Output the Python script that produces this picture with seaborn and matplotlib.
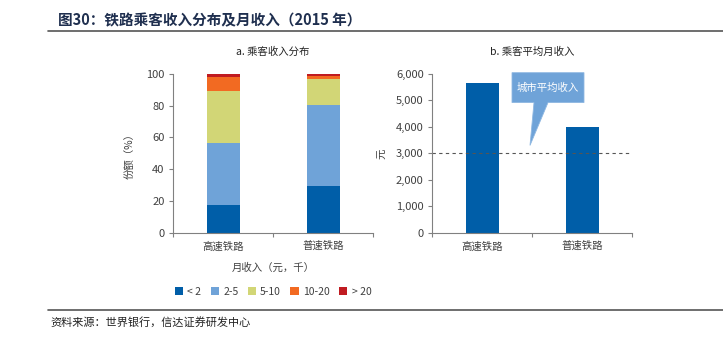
import matplotlib
matplotlib.use("Agg")
import matplotlib.pyplot as plt
from matplotlib.patches import Patch, Polygon
from matplotlib.lines import Line2D
from matplotlib.ticker import FuncFormatter, FixedLocator
import pandas as pd
import seaborn as sns

sns.set_theme(style="white")
plt.rcParams["font.family"] = ["Noto Sans CJK SC", "DejaVu Sans"]

# Railway passenger income, 2015
categories = ["高速铁路", "普速铁路"]
bands = ["< 2", "2-5", "5-10", "10-20", "> 20"]
share_lt2 = [17.5, 29.4]
share_2_5 = [39.2, 51.1]
share_5_10 = [32.8, 16.3]
share_10_20 = [8.8, 1.9]
share_gt20 = [1.7, 1.3]
avg_income = [5650, 4000]
city_avg_income = 3000

band_colors = ["#005ea8", "#6fa3d8", "#d2d676", "#f26a22", "#c01b21"]
text_gray = "#404040"
spine_gray = "#808080"

fig = plt.figure(figsize=(7.23, 3.43), dpi=100)
fig.patch.set_facecolor("white")

ax1 = fig.add_axes([173 / 723, 110.3 / 343, 200 / 723, 158.7 / 343])
ax2 = fig.add_axes([432 / 723, 110.3 / 343, 200 / 723, 158.7 / 343])

# Stacked shares: draw cumulative totals from the top band down
shares = [share_lt2, share_2_5, share_5_10, share_10_20, share_gt20]
cum = []
running = [0.0] * len(categories)
for s in shares:
    running = [r + v for r, v in zip(running, s)]
    cum.append(list(running))
for i in range(len(bands) - 1, -1, -1):
    df = pd.DataFrame({"cat": categories, "val": cum[i]})
    sns.barplot(data=df, x="cat", y="val", color=band_colors[i], saturation=1,
                width=0.33, ax=ax1, linewidth=0)

df2 = pd.DataFrame({"cat": categories, "val": avg_income})
sns.barplot(data=df2, x="cat", y="val", color=band_colors[0], saturation=1,
            width=0.33, ax=ax2, linewidth=0)
ax2.axhline(city_avg_income, color="#555555", lw=0.8, ls=(0, (3, 3)), zorder=1)

for ax in (ax1, ax2):
    ax.set_xlim(-0.5, 1.5)
    for side in ("top", "right"):
        ax.spines[side].set_visible(False)
    for side in ("left", "bottom"):
        ax.spines[side].set_color(spine_gray)
        ax.spines[side].set_linewidth(0.8)
    ax.set_xlabel("")
    ax.tick_params(axis="y", which="major", direction="out", length=3, width=0.8,
                   color=spine_gray, labelsize=8, labelcolor=text_gray, pad=3, left=True)
    ax.tick_params(axis="x", which="major", length=0, labelsize=7.5,
                   labelcolor=text_gray, pad=6)
    ax.xaxis.set_minor_locator(FixedLocator([-0.5, 0.5, 1.5]))
    ax.tick_params(axis="x", which="minor", direction="out", length=3, width=0.8,
                   color=spine_gray, bottom=True)
    ax.grid(False)

ax1.set_ylim(0, 100)
ax1.set_yticks([0, 20, 40, 60, 80, 100])
ax1.set_ylabel("份额（%）", fontsize=7.5, color=text_gray, labelpad=8)
ax1.set_title("a. 乘客收入分布", fontsize=7.5, color="#222222", pad=14,
              fontweight="medium")

ax2.set_ylim(0, 6000)
ax2.set_yticks(range(0, 6001, 1000))
ax2.yaxis.set_major_formatter(FuncFormatter(lambda v, p: f"{int(v):,}"))
ax2.set_ylabel("元", fontsize=7.5, color=text_gray, labelpad=6)
ax2.set_title("b. 乘客平均月收入", fontsize=7.5, color="#222222", pad=14,
              fontweight="medium")

# Speech-bubble callout for the city average line
bubble = Polygon([(0.30, 6050), (1.02, 6050), (1.02, 4920), (0.66, 4920),
                  (0.48, 3300), (0.52, 4920), (0.30, 4920)],
                 closed=True, facecolor="#6fa3d8", edgecolor="#8fb8e2",
                 lw=0.6, clip_on=False, zorder=5)
ax2.add_patch(bubble)
ax2.text(0.66, 5485, "城市平均收入", color="white", fontsize=7.5,
         ha="center", va="center", zorder=6)

# Figure title and rules
fig.text(58 / 723, 1 - 20 / 343, "图30：铁路乘客收入分布及月收入（2015 年）",
         fontsize=10.5, fontweight="bold", color="#1f2f4f", ha="left", va="center")
fig.add_artist(Line2D([48 / 723, 1.0], [1 - 31 / 343, 1 - 31 / 343],
                      color="#555555", lw=1.2))
fig.add_artist(Line2D([48 / 723, 1.0], [1 - 310 / 343, 1 - 310 / 343],
                      color="#555555", lw=1.2))
fig.text(50 / 723, 1 - 322 / 343, "资料来源：世界银行，信达证券研发中心",
         fontsize=8, style="italic", color="#222222", ha="left", va="center")

# Legend for income bands
fig.text(273 / 723, 1 - 268 / 343, "月收入（元，千）", fontsize=7.5,
         color=text_gray, ha="center", va="center")
handles = [Patch(facecolor=c, edgecolor="none", label=b)
           for c, b in zip(band_colors, bands)]
fig.legend(handles=handles, loc="center", bbox_to_anchor=(273 / 723, 1 - 292 / 343),
           ncol=5, frameon=False, fontsize=7.5, handlelength=0.8, handleheight=0.8,
           handletextpad=0.4, columnspacing=0.9, labelcolor=text_gray)

fig.savefig("out.png", dpi=100, facecolor="white")
